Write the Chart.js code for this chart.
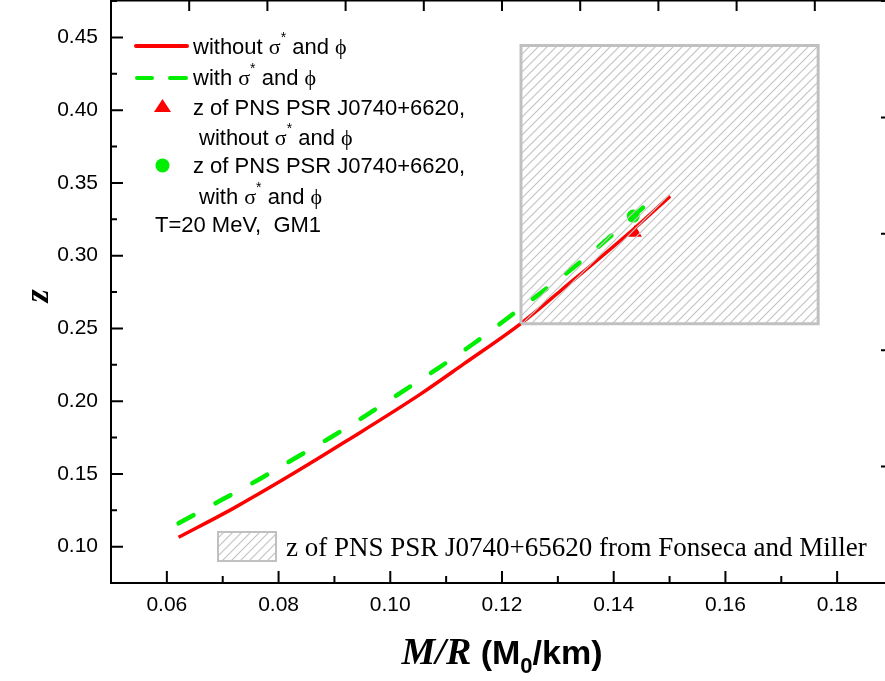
<!DOCTYPE html>
<html>
<head>
<meta charset="utf-8">
<script src="https://cdn.jsdelivr.net/npm/chart.js@4.4.1/dist/chart.umd.min.js"></script>
<style>
  html, body { margin: 0; padding: 0; background: #fff; overflow: hidden; }
  canvas { display: block; }
</style>
</head>
<body>
<canvas id="zChart" width="900" height="681"></canvas>
<script>
// values: M/R (Msun/km) against z
const mrWithout = [0.0621, 0.0719, 0.0815, 0.0922, 0.1054, 0.1131, 0.1236, 0.1306, 0.1438, 0.1501];
const zWithout  = [0.1064, 0.1263, 0.1476, 0.1727, 0.2048, 0.2254, 0.2540, 0.2762, 0.3190, 0.3409];
const mrWith = [0.0621, 0.0700, 0.0764, 0.0827, 0.0893, 0.0956, 0.1021, 0.1086, 0.1150, 0.1215, 0.1343, 0.1486];
const zWith  = [0.1160, 0.1325, 0.1460, 0.1602, 0.1750, 0.1901, 0.2064, 0.2227, 0.2398, 0.2585, 0.2965, 0.3443];
// PSR J0740+6620 points (M/R, z)
const psrWithout = [0.1438, 0.3157];
const psrWith = [0.1435, 0.3272];
// Fonseca and Miller region
const boxMR = [0.1234, 0.1766];
const boxZ = [0.2532, 0.4445];

const xTickLabels = ['0.06', '0.08', '0.10', '0.12', '0.14', '0.16', '0.18'];
const yTickLabels = ['0.10', '0.15', '0.20', '0.25', '0.30', '0.35', '0.40', '0.45'];

const RED = '#ff0000';
const GREEN = '#00ee00';
const GREY = '#c0c0c0';

function makeHatch() {
    const c = document.createElement('canvas');
    c.width = 9; c.height = 9;
    const g = c.getContext('2d');
    g.strokeStyle = '#c4c4c4';
    g.lineWidth = 1.2;
    g.beginPath();
    g.moveTo(0, 9); g.lineTo(9, 0);
    g.moveTo(-1, 1); g.lineTo(1, -1);
    g.moveTo(8, 10); g.lineTo(10, 8);
    g.stroke();
    return g.createPattern(c, 'repeat');
}
const hatch = makeHatch();

const toPts = (xs, ys) => xs.map((x, i) => ({ x: x, y: ys[i] }));

const sans = '22px "Liberation Sans", Arial, sans-serif';
const sym = '22px "Liberation Serif", serif';
const sup = '14px "Liberation Sans", Arial, sans-serif';

function drawRuns(ctx, x, y, runs) {
    runs.forEach(r => {
        ctx.font = r.f;
        ctx.fillText(r.t, x, y + (r.dy || 0));
        x += ctx.measureText(r.t).width;
    });
    return x;
}
function sigmaPhi(prefix) {
    return [
        { t: prefix, f: sans }, { t: 'σ', f: sym }, { t: '*', f: sup, dy: -12 },
        { t: ' and ', f: sans }, { t: 'ϕ', f: sym }
    ];
}

// inward tick marks, placed from the scales
const innerTicks = {
    id: 'innerTicks',
    afterDraw(chart) {
        const { ctx, chartArea: a, scales } = chart;
        ctx.save();
        ctx.strokeStyle = '#000';
        ctx.lineWidth = 2;
        ctx.beginPath();
        scales.x.ticks.forEach((t, i) => {
            const p = scales.x.getPixelForTick(i);
            const len = xTickLabels.includes(t.value.toFixed(2)) ? 12 : 7;
            ctx.moveTo(p, a.bottom); ctx.lineTo(p, a.bottom - len);
        });
        scales.y.ticks.forEach((t, i) => {
            const p = scales.y.getPixelForTick(i);
            const len = yTickLabels.includes(t.value.toFixed(2)) ? 12 : 6;
            ctx.moveTo(a.left, p); ctx.lineTo(a.left + len, p);
        });
        scales.x2.ticks.forEach((t, i) => {
            const p = scales.x2.getPixelForTick(i);
            ctx.moveTo(p, a.top); ctx.lineTo(p, a.top + 10);
        });
        scales.y2.ticks.forEach((t, i) => {
            const p = scales.y2.getPixelForTick(i);
            ctx.moveTo(a.right, p); ctx.lineTo(a.right - 12, p);
        });
        ctx.stroke();
        ctx.restore();
    }
};

// legend block, axis titles
const figureText = {
    id: 'figureText',
    afterDraw(chart) {
        const ctx = chart.ctx;
        const ds = chart.data.datasets;
        ctx.save();
        ctx.fillStyle = '#000';
        ctx.textBaseline = 'alphabetic';
        ctx.textAlign = 'left';

        // line samples
        ctx.lineCap = 'round';
        ctx.strokeStyle = ds[1].borderColor;
        ctx.lineWidth = 4;
        ctx.beginPath(); ctx.moveTo(136, 46); ctx.lineTo(187, 46); ctx.stroke();
        ctx.strokeStyle = ds[2].borderColor;
        ctx.beginPath();
        ctx.moveTo(137, 78); ctx.lineTo(152, 78);
        ctx.moveTo(170, 78); ctx.lineTo(186, 78);
        ctx.stroke();
        ctx.fillStyle = ds[4].backgroundColor;
        ctx.beginPath(); ctx.arc(162.5, 165.5, 7, 0, Math.PI * 2); ctx.fill();
        ctx.fillStyle = ds[3].backgroundColor;
        ctx.beginPath();
        ctx.moveTo(162.5, 99); ctx.lineTo(171, 112); ctx.lineTo(154, 112); ctx.closePath();
        ctx.fill();

        ctx.fillStyle = '#000';
        drawRuns(ctx, 193, 54, sigmaPhi('without '));
        drawRuns(ctx, 193, 85, sigmaPhi('with '));
        drawRuns(ctx, 193, 115, [{ t: 'z of PNS PSR J0740+6620,', f: sans }]);
        drawRuns(ctx, 199, 145, sigmaPhi('without '));
        drawRuns(ctx, 193, 173, [{ t: 'z of PNS PSR J0740+6620,', f: sans }]);
        drawRuns(ctx, 199, 204, sigmaPhi('with '));
        drawRuns(ctx, 155, 232, [{ t: 'T=20 MeV,  GM1', f: sans }]);

        // hatched region key
        ctx.fillStyle = ds[0].backgroundColor;
        ctx.fillRect(218, 532, 58, 29);
        ctx.strokeStyle = ds[0].borderColor;
        ctx.lineWidth = 2;
        ctx.strokeRect(218, 532, 58, 29);
        ctx.fillStyle = '#000';
        drawRuns(ctx, 286, 556, [{ t: 'z of PNS PSR J0740+65620 from Fonseca and Miller', f: '27px "Liberation Serif", "Times New Roman", serif' }]);

        // x title: M/R (M0/km)
        const a = chart.chartArea;
        const runs = [
            { t: 'M/R', f: 'italic bold 38px "Liberation Serif", serif' },
            { t: ' (M', f: 'bold 34px "Liberation Sans", Arial, sans-serif' },
            { t: '0', f: 'bold 22px "Liberation Sans", Arial, sans-serif', dy: 9 },
            { t: '/km)', f: 'bold 34px "Liberation Sans", Arial, sans-serif' }
        ];
        let w = 0;
        runs.forEach(r => { ctx.font = r.f; w += ctx.measureText(r.t).width; });
        drawRuns(ctx, (a.left + a.right) / 2 - w / 2, 664, runs);

        // y title
        ctx.save();
        ctx.translate(48, 296);
        ctx.rotate(-Math.PI / 2);
        ctx.textAlign = 'center';
        ctx.font = 'italic bold 34px "Liberation Serif", serif';
        ctx.fillText('z', 0, 0);
        ctx.restore();

        ctx.restore();
    }
};

const ctx = document.getElementById('zChart').getContext('2d');
Chart.defaults.font.family = '"Liberation Sans", Arial, sans-serif';
Chart.defaults.color = '#000';

const zChart = new Chart(ctx, {
    type: 'scatter',
    data: {
        datasets: [{
            label: 'z of PNS PSR J0740+65620 from Fonseca and Miller',
            data: [
                { x: boxMR[0], y: boxZ[0] }, { x: boxMR[0], y: boxZ[1] },
                { x: boxMR[1], y: boxZ[1] }, { x: boxMR[1], y: boxZ[0] },
                { x: boxMR[0], y: boxZ[0] }
            ],
            showLine: true,
            borderColor: GREY,
            borderWidth: 3,
            backgroundColor: hatch,
            fill: 'shape',
            pointRadius: 0,
            order: 0
        }, {
            label: 'without σ* and φ',
            data: toPts(mrWithout, zWithout),
            showLine: true,
            borderColor: RED,
            borderWidth: 3.5,
            cubicInterpolationMode: 'monotone',
            pointRadius: 0,
            order: 2
        }, {
            label: 'with σ* and φ',
            data: toPts(mrWith, zWith),
            showLine: true,
            borderColor: GREEN,
            borderWidth: 4.5,
            borderDash: [17, 25],
            borderCapStyle: 'round',
            cubicInterpolationMode: 'monotone',
            pointRadius: 0,
            order: 4
        }, {
            label: 'z of PNS PSR J0740+6620, without σ* and φ',
            data: [{ x: psrWithout[0], y: psrWithout[1] }],
            pointStyle: 'triangle',
            pointRadius: 8,
            backgroundColor: RED,
            borderWidth: 0,
            order: 3
        }, {
            label: 'z of PNS PSR J0740+6620, with σ* and φ',
            data: [{ x: psrWith[0], y: psrWith[1] }],
            pointStyle: 'circle',
            pointRadius: 6.5,
            backgroundColor: GREEN,
            borderWidth: 0,
            order: 1
        }]
    },
    options: {
        responsive: false,
        animation: false,
        layout: { padding: 0, autoPadding: false },
        plugins: {
            legend: { display: false },
            tooltip: { enabled: false }
        },
        scales: {
            x: {
                type: 'linear',
                position: 'bottom',
                min: 0.05,
                max: 0.19,
                ticks: {
                    stepSize: 0.01,
                    autoSkip: false,
                    maxRotation: 0,
                    padding: 10,
                    font: { size: 21 },
                    callback: v => xTickLabels.includes(v.toFixed(2)) ? v.toFixed(2) : ''
                },
                grid: { display: false, drawTicks: false },
                border: { display: true, color: '#000', width: 2 },
                afterFit: s => { s.height = 98; s.paddingLeft = 0; s.paddingRight = 0; }
            },
            y: {
                type: 'linear',
                position: 'left',
                min: 0.075,
                max: 0.475,
                ticks: {
                    stepSize: 0.025,
                    autoSkip: false,
                    padding: 13,
                    font: { size: 21 },
                    callback: v => yTickLabels.includes(v.toFixed(2)) ? v.toFixed(2) : ''
                },
                grid: { display: false, drawTicks: false },
                border: { display: true, color: '#000', width: 2 },
                afterFit: s => { s.width = 111; s.paddingTop = 0; s.paddingBottom = 0; }
            },
            x2: {
                type: 'linear',
                position: 'top',
                min: 0,
                max: 10,
                ticks: { stepSize: 1, display: false },
                grid: { display: false, drawTicks: false },
                border: { display: true, color: '#000', width: 1.5 },
                afterFit: s => { s.height = 1; s.paddingLeft = 0; s.paddingRight = 0; }
            },
            y2: {
                type: 'linear',
                position: 'right',
                min: 0,
                max: 5,
                ticks: { stepSize: 1, display: false },
                grid: { display: false, drawTicks: false },
                border: { display: true, color: '#000', width: 2 },
                afterFit: s => { s.width = 7; s.paddingTop = 0; s.paddingBottom = 0; }
            }
        }
    },
    plugins: [innerTicks, figureText]
});
</script>
</body>
</html>
